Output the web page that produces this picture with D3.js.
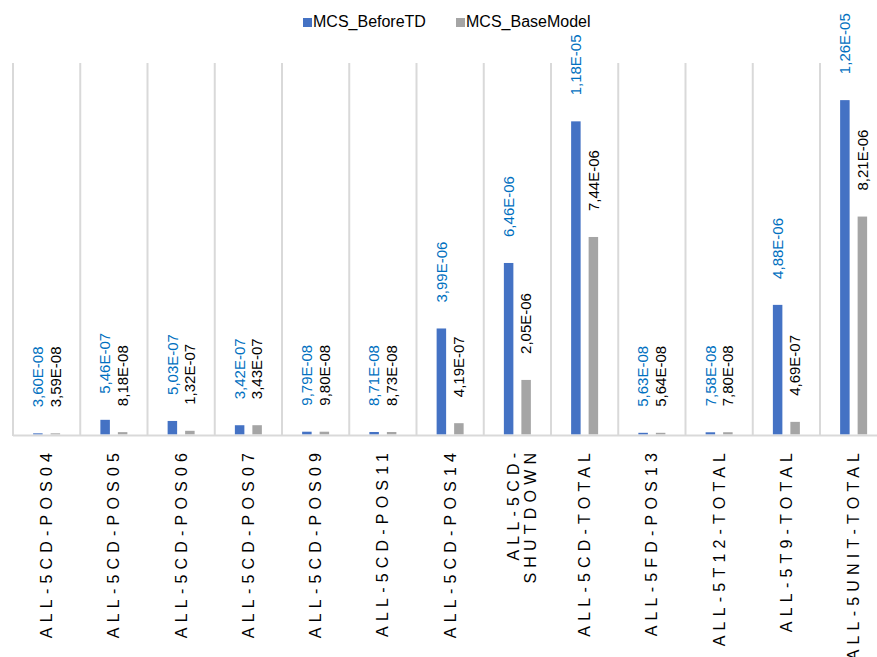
<!DOCTYPE html>
<html>
<head>
<meta charset="utf-8">
<script src="https://cdn.jsdelivr.net/npm/d3@7"></script>
<style>
  body { margin: 0; background: #fff; }
  svg { display: block; font-family: "Liberation Sans", Arial, sans-serif; }
</style>
</head>
<body>
<div id="main"></div>
<script>
const ctx = {
    w: 877,
    h: 657,
};

const categories = [
    "ALL-5CD-POS04", "ALL-5CD-POS05", "ALL-5CD-POS06", "ALL-5CD-POS07",
    "ALL-5CD-POS09", "ALL-5CD-POS11", "ALL-5CD-POS14", "ALL-5CD-SHUTDOWN",
    "ALL-5CD-TOTAL", "ALL-5FD-POS13", "ALL-5T12-TOTAL", "ALL-5T9-TOTAL",
    "ALL-5UNIT-TOTAL"
];

const seriesNames = ["MCS_BeforeTD", "MCS_BaseModel"];

const beforeTD = [3.60e-8, 5.46e-7, 5.03e-7, 3.42e-7, 9.79e-8, 8.71e-8, 3.99e-6,
    6.46e-6, 1.18e-5, 5.63e-8, 7.58e-8, 4.88e-6, 1.26e-5];
const baseModel = [3.59e-8, 8.18e-8, 1.32e-7, 3.43e-7, 9.80e-8, 8.73e-8, 4.19e-7,
    2.05e-6, 7.44e-6, 5.64e-8, 7.80e-8, 4.69e-7, 8.21e-6];

const yMax = 1.4e-5;

const barColors = ["#4472c4", "#a5a5a5"];
const labelColors = ["#0070c0", "#000000"];

// excel style: 3,60E-08
function fmtSci(v) {
    let [m, e] = v.toExponential(2).toUpperCase().split("E");
    let sign = e[0] === "-" ? "-" : "+";
    let digits = e.replace(/[+-]/, "").padStart(2, "0");
    return m.replace(".", ",") + "E" + sign + digits;
}

function splitLabel(name) {
    if (name.length <= 15) return [name];
    let i = name.lastIndexOf("-");
    return [name.slice(0, i + 1), name.slice(i + 1)];
}

function createViz() {
    let svgEl = d3.select("#main").append("svg")
        .attr("width", ctx.w)
        .attr("height", ctx.h);

    const left = 13, step = 67.25;
    const x0 = d3.scaleBand()
        .domain(categories)
        .range([left, left + step * categories.length])
        .padding(0);

    const x1 = d3.scaleBand()
        .domain(seriesNames)
        .range([0, x0.bandwidth()])
        .paddingInner(0.457)
        .paddingOuter(1.15);

    const y = d3.scaleLinear()
        .domain([0, yMax])
        .range([434.3, 63]);

    // vertical grid lines between categories
    const bounds = categories.map(c => x0(c)).concat([x0.range()[1]]);
    svgEl.append("g").selectAll("line")
        .data(bounds)
        .enter().append("line")
        .attr("x1", d => d).attr("x2", d => d)
        .attr("y1", y(yMax)).attr("y2", 436)
        .style("stroke", "#d9d9d9")
        .style("stroke-width", 2);

    svgEl.append("line")
        .attr("x1", left).attr("x2", x0.range()[1])
        .attr("y1", 435.5).attr("y2", 435.5)
        .style("stroke", "#d9d9d9")
        .style("stroke-width", 2);

    const series = [beforeTD, baseModel];
    const rows = [];
    series.forEach((vals, s) => {
        vals.forEach((v, i) => rows.push({cat: categories[i], s: s, value: v}));
    });

    svgEl.append("g").selectAll("rect")
        .data(rows)
        .enter().append("rect")
        .attr("x", d => x0(d.cat) + x1(seriesNames[d.s]))
        .attr("width", x1.bandwidth())
        .attr("y", d => y(d.value))
        .attr("height", d => y(0) - y(d.value))
        .style("fill", d => barColors[d.s]);

    // value labels, rotated
    svgEl.append("g").selectAll("text")
        .data(rows)
        .enter().append("text")
        .attr("transform", d => {
            let cx = x0(d.cat) + x1(seriesNames[d.s]) + x1.bandwidth() / 2;
            return `translate(${cx},${y(d.value) - 26}) rotate(-90)`;
        })
        .attr("dy", "0.35em")
        .attr("text-anchor", "start")
        .style("font-size", "15px")
        .style("fill", d => labelColors[d.s])
        .text(d => fmtSci(d.value));

    // category labels
    const ls = 5.2;
    const catG = svgEl.append("g").selectAll("g")
        .data(categories)
        .enter().append("g")
        .attr("transform", d => `translate(${x0(d) + x0.bandwidth() / 2},${453 - ls})`);

    catG.each(function(d) {
        const lines = splitLabel(d);
        const off = (lines.length - 1) / 2;
        lines.forEach((ln, k) => {
            d3.select(this).append("text")
                .attr("transform", `translate(${(k - off) * 17 + (lines.length > 1 ? 5 : 0)},0) rotate(-90)`)
                .attr("dy", "0.35em")
                .attr("text-anchor", "end")
                .style("font-size", "16px")
                .style("letter-spacing", ls + "px")
                .style("fill", "#000")
                .text(ln);
        });
    });

    // legend
    const legendX = [303, 456];
    const leg = svgEl.append("g").selectAll("g")
        .data(seriesNames)
        .enter().append("g")
        .attr("transform", (d, i) => `translate(${legendX[i]},18)`);
    leg.append("rect")
        .attr("width", 9).attr("height", 9)
        .style("fill", (d, i) => barColors[i]);
    leg.append("text")
        .attr("x", 10).attr("y", 9)
        .style("font-size", "16px")
        .style("fill", "#000")
        .text(d => d);
}

createViz();
</script>
</body>
</html>
